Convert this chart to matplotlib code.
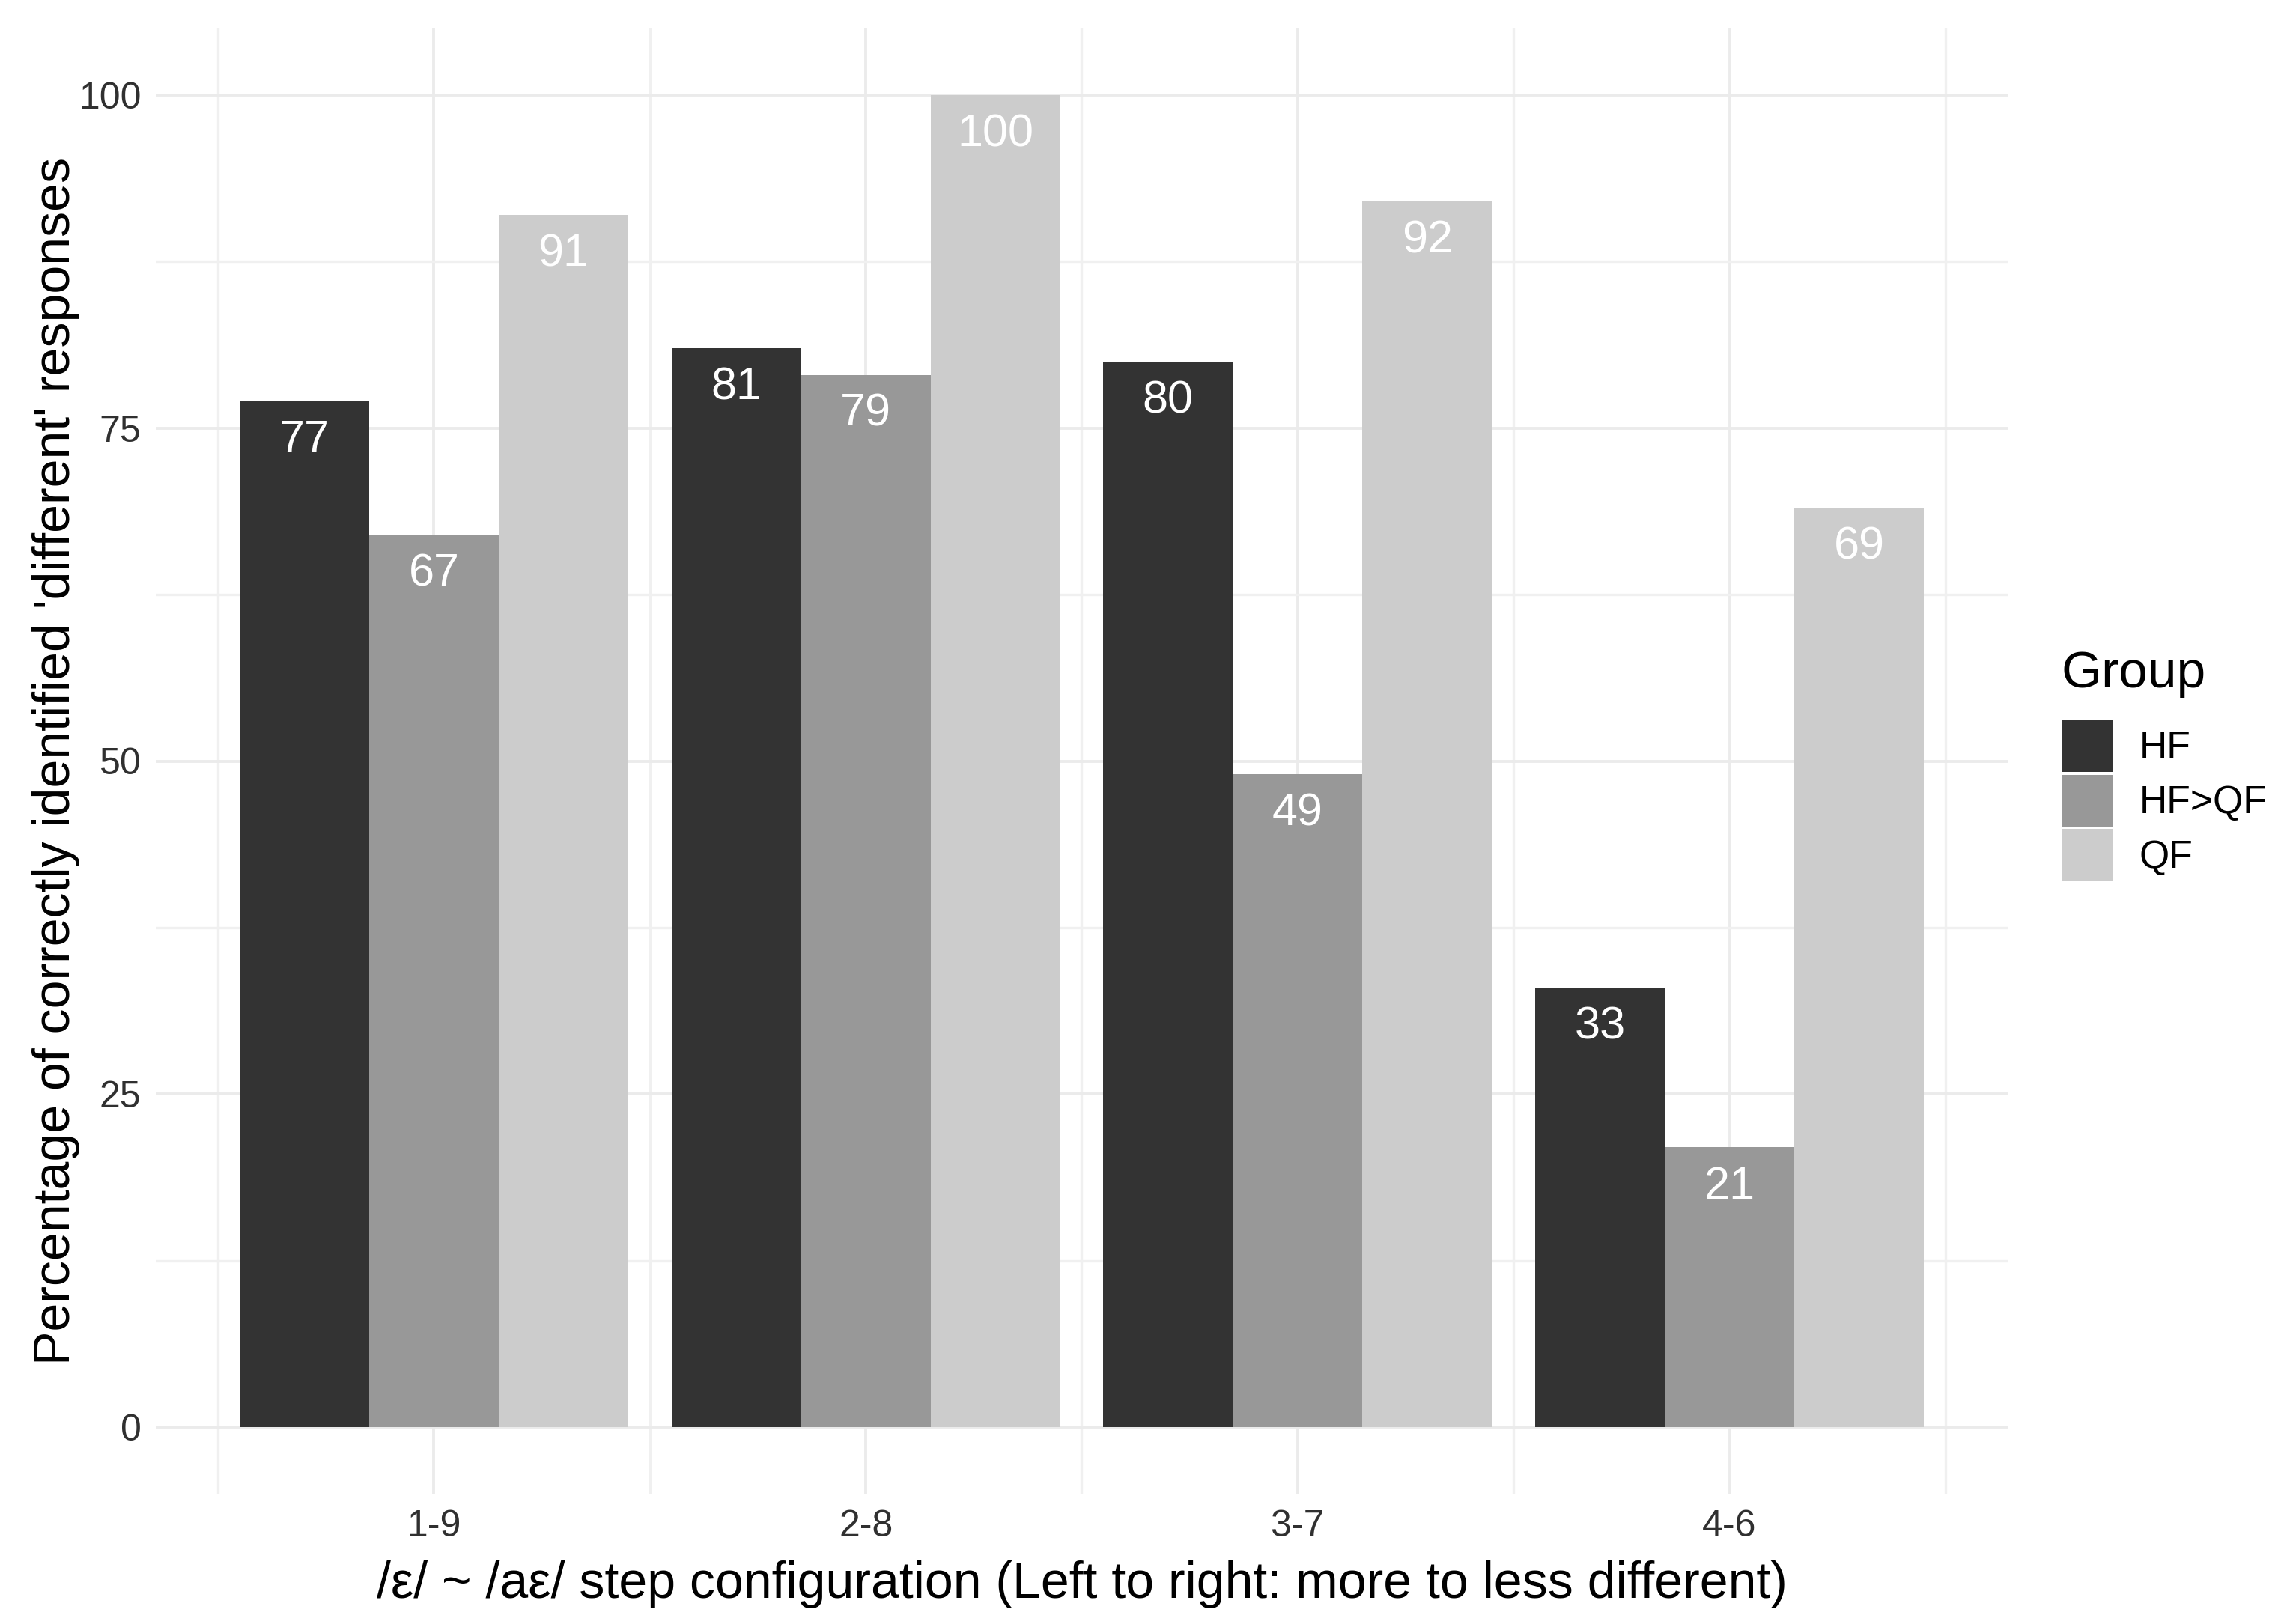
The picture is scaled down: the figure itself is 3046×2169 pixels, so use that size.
import matplotlib
matplotlib.use("Agg")
import matplotlib.pyplot as plt
import numpy as np
from matplotlib.patches import Patch

plt.rcParams['font.family'] = ['Liberation Sans', 'DejaVu Sans']

categories = ["1-9", "2-8", "3-7", "4-6"]
groups = ["HF", "HF>QF", "QF"]
hf = [77, 81, 80, 33]
hf_qf = [67, 79, 49, 21]
qf = [91, 100, 92, 69]
colors = ["#333333", "#989898", "#CCCCCC"]
yticks = [0, 25, 50, 75, 100]

W, H, DPI = 3046, 2169, 200
fig = plt.figure(figsize=(W / DPI, H / DPI), dpi=DPI)
L, R, T, B = 208, 2681, 38, 1995
ax = fig.add_axes([L / W, 1 - B / H, (R - L) / W, (B - T) / H])

x = np.arange(1, len(categories) + 1)
bw = 0.3
series = [hf, hf_qf, qf]
for i, (vals, c, g) in enumerate(zip(series, colors, groups)):
    pos = x + (i - 1) * bw
    ax.bar(pos, vals, width=bw, color=c, label=g, zorder=2, linewidth=0)
    for xp, v in zip(pos, vals):
        ax.annotate(str(v), xy=(xp, v), xytext=(0, -19), textcoords='offset points',
                    ha='center', va='center', color='white', fontsize=22, zorder=3)

ax.set_xlim(0.356, 4.644)
ax.set_ylim(-5, 105)
ax.set_xticks(x)
ax.set_xticklabels(categories)
ax.set_xticks(np.arange(0.5, 4.6, 1.0), minor=True)
ax.set_yticks(yticks)
ax.set_yticklabels([str(t) for t in yticks])
ax.set_yticks(np.arange(12.5, 100, 25), minor=True)
ax.grid(which='major', color='#EBEBEB', linewidth=1.4, zorder=0)
ax.grid(which='minor', color='#F0F0F0', linewidth=1.2, zorder=0)
ax.set_axisbelow(True)
for s in ax.spines.values():
    s.set_visible(False)
ax.tick_params(which='both', length=0)
ax.tick_params(axis='y', pad=7, labelsize=18, labelcolor='#303030')
ax.tick_params(axis='x', pad=7.4, labelsize=18, labelcolor='#303030')

ax.set_xlabel("/\u03b5/ ~ /a\u03b5/ step configuration (Left to right: more to less different)",
              fontsize=24.5, labelpad=8, color='black')
ax.set_ylabel("Percentage of correctly identified 'different' responses",
              fontsize=24.5, color='black')
ax.yaxis.set_label_coords(-0.0408, 0.5)

handles = [Patch(facecolor=c, edgecolor='none', label=g) for c, g in zip(colors, groups)]
leg = fig.legend(handles=handles, loc='upper left', bbox_to_anchor=(2754 / W, 1 - 962 / H),
                 fontsize=18.6, frameon=False,
                 handlelength=1.3, handleheight=1.68, labelspacing=0.07,
                 handletextpad=0.68, borderpad=0, borderaxespad=0)
fig.text(2752 / W, 1 - 900 / H, "Group", fontsize=25, ha='left', va='center', color='black')

fig.savefig("out.png", dpi=DPI, facecolor='white')
